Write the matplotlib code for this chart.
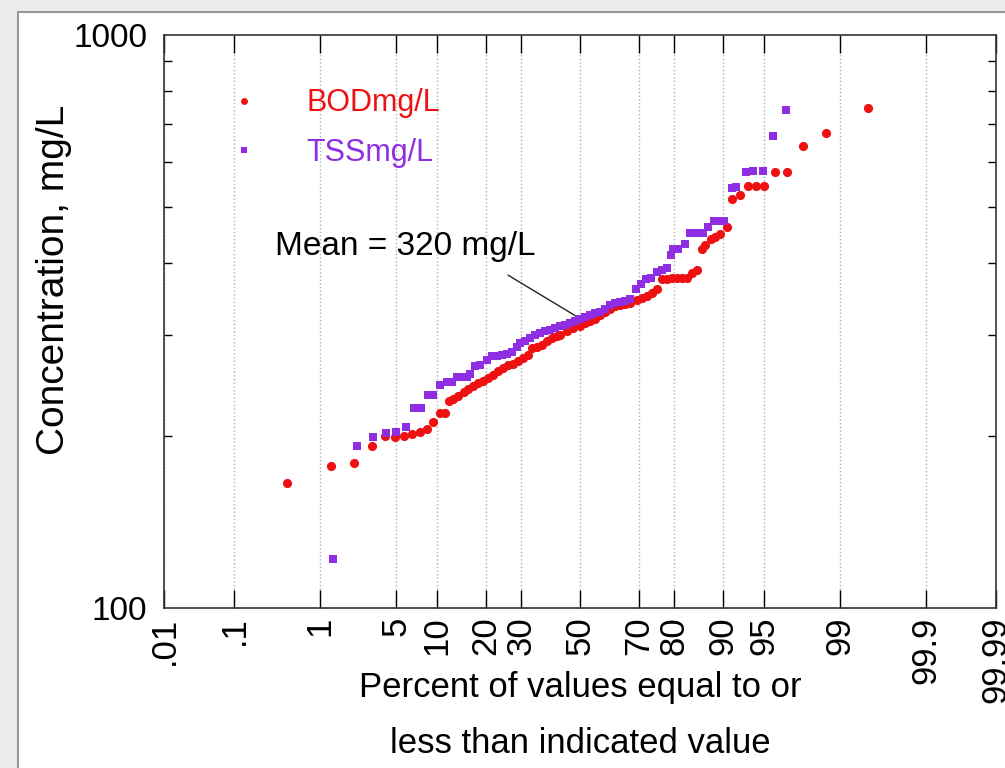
import numpy as np
import matplotlib
matplotlib.use('Agg')
import matplotlib.pyplot as plt
from matplotlib.patches import Rectangle
from statistics import NormalDist


# percent of values <= value, and concentration (mg/L)
bod_pct = [0.44, 1.30, 2.18, 3.15, 4.09, 4.91, 5.78, 6.66, 7.64, 8.53,
           9.40, 10.5, 11.4, 12.0, 12.9, 13.8, 14.9, 15.9, 17.0, 18.2,
           19.4, 20.6, 21.9, 23.3, 24.6, 26.1, 27.6, 29.1, 30.6, 32.2,
           33.3, 34.9, 36.6, 38.3, 40.0, 41.8, 42.9, 45.3, 47.6, 50.0,
           51.8, 53.6, 55.3, 57.1, 58.8, 60.6, 62.3, 64.0, 65.6, 67.3,
           69.4, 70.9, 72.4, 73.9, 75.4, 76.7, 78.1, 79.4, 80.6, 81.8,
           83.0, 84.1, 85.2, 86.2, 86.8, 87.9, 88.6, 89.5, 90.5, 91.3,
           92.4, 93.3, 94.2, 95.0, 95.9, 96.8, 97.7, 98.6, 99.5]
bod_mgl = [165, 177, 179, 192, 200, 199, 200, 201, 203, 205,
           211, 219, 219, 230, 232, 234, 238, 241, 244, 247,
           249, 252, 255, 259, 262, 265, 267, 270, 273, 276,
           284, 286, 288, 292, 296, 298, 300, 304, 308, 311,
           314, 317, 320, 325, 329, 333, 337, 338, 339, 341,
           345, 347, 350, 354, 360, 375, 375, 376, 376, 376,
           376, 385, 389, 424, 430, 440, 444, 450, 463, 517,
           526, 545, 545, 545, 577, 577, 640, 675, 745]

tss_pct = [1.35, 2.32, 3.24, 4.15, 5.0, 6.04, 6.89, 7.72, 8.75, 9.49,
           10.5, 11.7, 12.6, 13.5, 14.5, 15.6, 16.3, 17.4, 18.6, 20.2,
           21.5, 22.8, 24.2, 25.6, 27.1, 28.6, 29.6, 31.1, 32.7, 34.4,
           36.0, 37.7, 39.4, 41.2, 42.9, 44.7, 46.4, 48.2, 50.0, 51.8,
           53.6, 55.3, 57.1, 58.8, 60.6, 62.3, 64.0, 65.6, 67.3, 69.2,
           70.7, 72.2, 73.6, 75.4, 76.7, 78.1, 79.2, 79.8, 81.0, 82.6,
           83.7, 85.2, 86.5, 87.4, 88.5, 89.3, 90.1, 91.3, 91.9, 93.1,
           93.9, 94.9, 95.8, 96.7]
tss_mgl = [122, 192, 199, 202, 203, 207, 223, 223, 235, 235,
           245, 248, 248, 253, 253, 253, 256, 264, 266, 271,
           275, 275, 276, 278, 280, 286, 290, 292, 296, 300,
           302, 304, 306, 308, 310, 312, 314, 317, 319, 322,
           325, 327, 329, 333, 338, 341, 342, 344, 346, 360,
           368, 375, 376, 386, 389, 392, 413, 423, 424, 432,
           452, 452, 452, 463, 474, 474, 474, 540, 542, 577,
           580, 580, 666, 740]

tick_pct = [0.01, 0.1, 1, 5, 10, 20, 30, 50, 70, 80, 90, 95, 99, 99.9, 99.99]
tick_lbl = ['.01', '.1', '1', '5', '10', '20', '30', '50', '70', '80',
            '90', '95', '99', '99.9', '99.99']

mean_val = 320

nd = NormalDist()


# normal probability scale for the x axis
def fwd(p):
    p = np.clip(np.asarray(p, dtype=float), 1e-7, 100 - 1e-7)
    return np.vectorize(lambda v: nd.inv_cdf(v / 100.0), otypes=[float])(p)


def inv(z):
    z = np.asarray(z, dtype=float)
    return np.vectorize(lambda v: 100.0 * nd.cdf(v), otypes=[float])(z)


plt.rcParams['font.family'] = ['Liberation Sans', 'DejaVu Sans']

fig = plt.figure(figsize=(10.05, 7.68), dpi=100, facecolor='#ececec')
panel = Rectangle((18 / 1005, -0.01), 1.0, 1.01 - 12 / 768,
                  transform=fig.transFigure, facecolor='white',
                  edgecolor='#9a9a9a', lw=1.5, zorder=-10)
fig.patches.append(panel)

ax = fig.add_axes([164 / 1005, 1 - 608 / 768, 832 / 1005, 573 / 768])
ax.set_zorder(1)
ax.set_xscale('function', functions=(fwd, inv))
ax.set_yscale('log')
ax.set_xlim(0.01, 99.99)
ax.set_ylim(100, 1000)

red = '#ee1111'
purple = '#8e2de2'
ax.plot(bod_pct, bod_mgl, 'o', ls='none', color=red, ms=6.6, mew=0,
        label='BODmg/L', zorder=3)
ax.plot(tss_pct, tss_mgl, 's', ls='none', color=purple, ms=6, mew=0,
        label='TSSmg/L', zorder=4)

ax.set_xticks(tick_pct)
ax.set_xticklabels(tick_lbl, rotation=90)
ax.xaxis.set_minor_locator(matplotlib.ticker.NullLocator())
ax.set_yticks([100, 1000])
ax.set_yticklabels(['100', '1000'])
ax.set_yticks([200, 300, 400, 500, 600, 700, 800, 900], minor=True)
ax.yaxis.set_minor_formatter(matplotlib.ticker.NullFormatter())

ax.tick_params(axis='x', which='major', direction='in', top=True, bottom=True,
               length=13, width=1, labelsize=25, pad=6)
ax.tick_params(axis='y', which='major', direction='in', left=True, right=True,
               length=0, labelsize=24, pad=12)
ax.tick_params(axis='y', which='minor', direction='in', left=True, right=True,
               length=6, width=1)
ax.grid(axis='x', which='major', color='#b0b0b0', ls=':', lw=1)

for s in ax.spines.values():
    s.set_linewidth(1.2)
    s.set_color('#333333')

ax.set_xlabel('Percent of values equal to or\nless than indicated value',
              fontsize=25, linespacing=1.9)
ax.xaxis.set_label_coords(0.5, -0.11)
ax.xaxis.label.set_va('top')
ax.set_ylabel('Concentration, mg/L', fontsize=28)
ax.yaxis.set_label_coords(-0.11, 0.572)

ax.annotate('', xy=(50, mean_val), xytext=(26, 381),
            arrowprops=dict(arrowstyle='-', color='#222222', lw=1,
                            shrinkA=0, shrinkB=0))
ax.text(5.9, 428, 'Mean = %d mg/L' % mean_val, fontsize=24,
        ha='center', va='center')

leg = ax.legend(loc='upper left', bbox_to_anchor=(0.045, 0.955), frameon=False,
                fontsize=22, markerscale=0.75, handlelength=1.0,
                handletextpad=1.53, labelspacing=0.65,
                labelcolor='markerfacecolor')

fig.savefig('out.png', dpi=100, facecolor=fig.get_facecolor())
